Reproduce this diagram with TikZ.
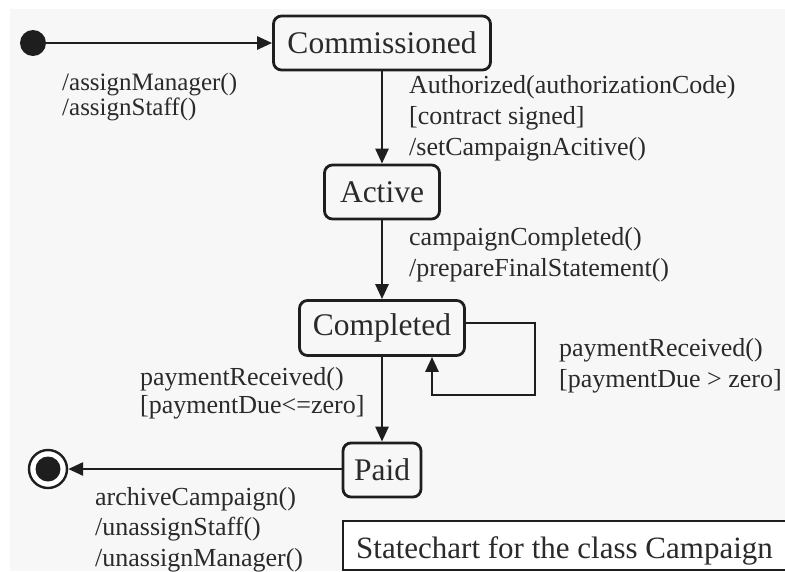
\documentclass[tikz,border=0pt]{standalone}
\usepackage{fontspec}
\setmainfont{Liberation Serif}
\usetikzlibrary{arrows.meta}
\definecolor{ink}{HTML}{1E1E1E}
\definecolor{txt}{HTML}{2A2A2A}
\definecolor{panel}{HTML}{F7F7F7}
\tikzset{
  state/.style={draw=ink, line width=2.8pt, rounded corners=8pt, fill=panel,
    inner sep=0pt, text=txt, font=\fontsize{31.5}{31.5}\selectfont},
  trans/.style={draw=ink, line width=2.8pt, -{Triangle[length=15pt,width=13pt]}},
  lbl/.style={anchor=base west, inner sep=0pt, text=txt, font=\fontsize{26}{26}\selectfont},
  lblsmall/.style={lbl, font=\fontsize{25}{25}\selectfont}
}
\begin{document}
\begin{tikzpicture}[x=1pt, y=-1pt]
  \useasboundingbox (0,0) rectangle (785,571);
  % panel background
  \fill[panel] (10,9) rectangle (785,571);

  % states
  \node[state, minimum width=217pt, minimum height=54pt] (comm) at (382,43) {Commissioned};
  \node[state, minimum width=115pt, minimum height=54pt] (act) at (382,192) {Active};
  \node[state, minimum width=165pt, minimum height=55pt] (compl) at (382,328) {Completed};
  \node[state, minimum width=78pt, minimum height=54pt] (paid) at (382,470) {Paid};

  % pseudo-states
  \node[circle, fill=ink, minimum size=26pt, inner sep=0pt] (init) at (33,43) {};
  \node[circle, draw=ink, line width=2.4pt, fill=white, minimum size=38pt, inner sep=0pt] (final) at (48,469) {};
  \node[circle, fill=ink, minimum size=25pt, inner sep=0pt] (finaldot) at (final) {};

  % transitions
  \draw[trans] (init) -- (comm);
  \draw[trans] (comm) -- (act);
  \draw[trans] (act) -- (compl);
  \draw[trans] (compl) -- (paid);
  \draw[trans] (paid.west |- final) -- (final);
  \coordinate (loopc) at (535,395);
  \coordinate (loopb) at (432,395);
  \draw[trans] ([yshift=5pt]compl.east) -| (loopc) -- (loopb) -- (loopb |- compl.south);

  % transition labels
  \node[lblsmall] (a1) at (62,90) {/assignManager()};
  \node[lblsmall] (a2) at (62,115) {/assignStaff()};

  \node[lbl] (b1) at (409,93) {Authorized(authorizationCode)};
  \node[lbl] (b2) at (409,124) {[contract signed]};
  \node[lbl] (b3) at (409,155) {/setCampaignAcitive()};

  \node[lbl] (c1) at (409,245) {campaignCompleted()};
  \node[lbl] (c2) at (409,276) {/prepareFinalStatement()};

  \node[lbl] (d1) at (559,356) {paymentReceived()};
  \node[lbl] (d2) at (559,387) {[paymentDue > zero]};

  \node[lbl] (e1) at (140,385) {paymentReceived()};
  \node[lbl] (e2) at (140,413) {[paymentDue<=zero]};

  \node[lbl] (f1) at (95,505) {archiveCampaign()};
  \node[lbl] (f2) at (95,535) {/unassignStaff()};
  \node[lbl] (f3) at (95,566) {/unassignManager()};

  % caption box
  \draw[ink, line width=2.2pt, fill=white] (343,521) rectangle (795,570);
  \node[lbl, font=\fontsize{31}{31}\selectfont] (cap) at (356,558) {Statechart for the class Campaign};
\end{tikzpicture}
\end{document}
